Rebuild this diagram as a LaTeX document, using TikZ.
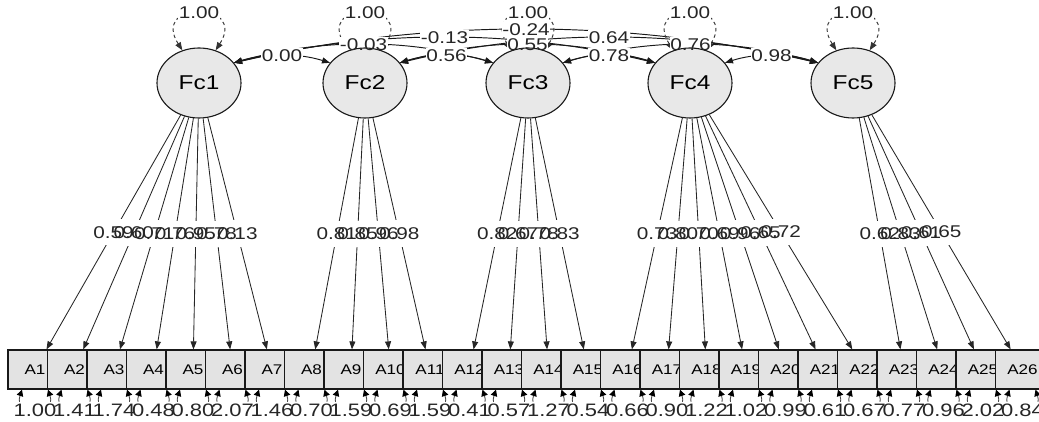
\documentclass[tikz,border=0pt]{standalone}
\usepackage{fontspec}
\setmainfont{Liberation Sans}[FakeStretch=1.22]
\usetikzlibrary{shapes.geometric,arrows.meta,calc}
\pgfdeclarelayer{edges}
\pgfdeclarelayer{labelbg}
\pgfsetlayers{edges,labelbg,main}
% edge label: text on the main layer, a white patch below it that masks the edges
\newcommand\maskedlabel[4]{%
  \node[#1] (#2) at (#3) {#4};
  \begin{pgfonlayer}{labelbg}
    \fill[white] (#2.south west) rectangle (#2.north east);
  \end{pgfonlayer}}
\begin{document}
\begin{tikzpicture}[x=1pt,y=-1pt,
  >={Triangle[length=8pt,width=6pt]},
  latent/.style={ellipse,draw=black!90,line width=1.1pt,fill=gray!18,
    minimum width=84pt,minimum height=70pt,inner sep=0pt,
    font=\fontsize{20}{20}\selectfont},
  manifest/.style={rectangle,draw=black!90,line width=1.2pt,fill=gray!22,
    minimum width=54pt,minimum height=39pt,inner sep=0pt,
    font=\fontsize{14}{14}\selectfont},
  load/.style={draw=black!85,line width=0.85pt,->},
  cov/.style={draw=black!90,line width=0.95pt,<->},
  var/.style={draw=black!80,line width=0.95pt,<->,dash pattern=on 3.5pt off 3pt},
  resid/.style={draw=black!70,line width=0.85pt,
    {Triangle[length=6.5pt,width=6.5pt,fill=black,color=black]}-{Triangle[length=6.5pt,width=6.5pt,fill=black,color=black]}},
  elabel/.style={inner xsep=0.5pt,inner ysep=1.5pt,
    font=\fontsize{17}{17}\selectfont,text=black!85},
  llabel/.style={elabel,inner ysep=7pt},
  rlabel/.style={elabel,inner ysep=1pt,font=\fontsize{18}{18}\selectfont},
]
\useasboundingbox (0,0) rectangle (1039,422);

% latent factors
\foreach \k/\x in {1/199,2/365,3/528,4/690,5/853}
  \node[latent] (F\k) at (\x,83) {Fc\k};

% observed items
\foreach \i in {1,...,26}
  \node[manifest] (A\i) at ({35+39.5*(\i-1)},369.5) {A\i};

% factor loadings
\foreach \f/\a/\v in {1/1/0.59,1/2/0.60,1/3/0.71,1/4/0.76,1/5/0.95,1/6/0.78,1/7/0.13,
    2/8/0.81,2/9/0.85,2/10/0.96,2/11/0.98,
    3/12/0.82,3/13/0.67,3/14/0.78,3/15/0.83,
    4/16/0.73,4/17/0.80,4/18/0.70,4/19/0.69,4/20/0.96,4/21/0.65,4/22/0.72,
    5/23/0.62,5/24/0.83,5/25/0.61,5/26/0.65}{
  \begin{pgfonlayer}{edges}
    \draw[load] (F\f) -- coordinate[midway] (m\a) (A\a);
  \end{pgfonlayer}
  \maskedlabel{llabel}{la\a}{m\a}{\v}
}

% factor covariances
\foreach \i/\j/\qy/\v in {1/2/48/0.00,1/3/26/-0.03,1/4/12/-0.13,1/5/-4/-0.24,
    2/3/48/0.56,2/4/26/0.55,2/5/12/0.64,3/4/48/0.78,3/5/26/0.76,4/5/48/0.98}{
  \coordinate (q\i\j) at ($(F\i)!0.5!(F\j) + (0,{\qy-83})$);
  \begin{pgfonlayer}{edges}
    \draw[cov] (F\i.30) .. controls ($(F\i.30)!0.667!(q\i\j)$)
      and ($(F\j.150)!0.667!(q\i\j)$) .. (F\j.150) coordinate[pos=0.5] (c\i\j);
  \end{pgfonlayer}
  \maskedlabel{elabel}{lc\i\j}{c\i\j}{\v}
}

% factor variances
\foreach \k in {1,...,5}{
  \begin{pgfonlayer}{edges}
    \draw[var] (F\k.117) .. controls +(-32,-50) and +(32,-50) .. (F\k.63)
      coordinate[pos=0.5] (v\k);
  \end{pgfonlayer}
  \maskedlabel{elabel}{lv\k}{v\k}{1.00}
}

% residual variances
\foreach \i/\v in {1/1.00,2/1.41,3/1.74,4/0.48,5/0.80,6/2.07,7/1.46,8/0.70,9/1.59,
    10/0.69,11/1.59,12/0.41,13/0.57,14/1.27,15/0.54,16/0.66,17/0.90,18/1.22,
    19/1.02,20/0.99,21/0.61,22/0.67,23/0.77,24/0.96,25/2.02,26/0.84}{
  \begin{pgfonlayer}{edges}
    \draw[resid] ([xshift=-13pt]A\i.south) .. controls +(-9,27) and +(9,27)
      .. ([xshift=13pt]A\i.south) coordinate[pos=0.5] (r\i);
  \end{pgfonlayer}
  \maskedlabel{rlabel}{lr\i}{r\i}{\v}
}
\end{tikzpicture}
\end{document}
